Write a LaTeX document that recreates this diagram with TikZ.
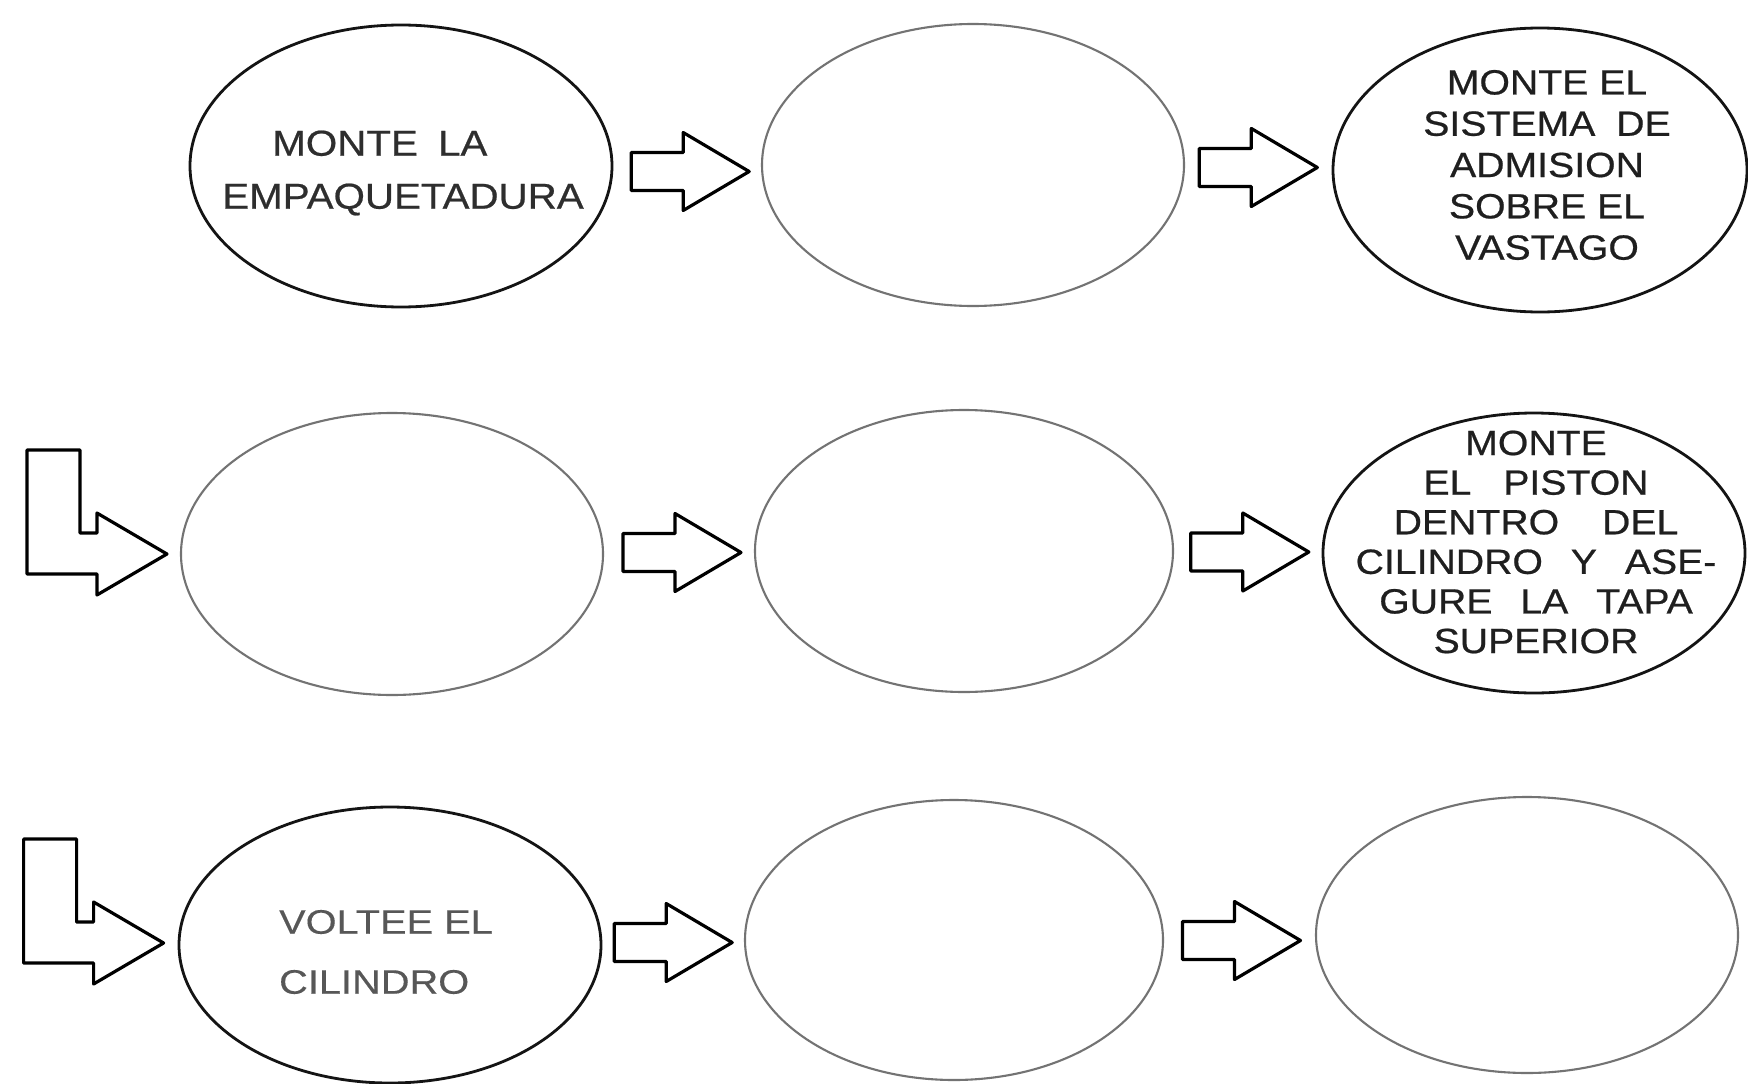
\documentclass[tikz,border=0pt]{standalone}
\usepackage{fontspec}
\setmainfont{Liberation Sans}
\newfontfamily\labfont{Liberation Sans}[FakeStretch=1.12,FakeBold=0.6]
\newfontfamily\labfontw{Liberation Sans}[FakeStretch=1.17,FakeBold=0.3]
\usetikzlibrary{shapes.geometric,calc}
\tikzset{
  stepell/.style={ellipse, inner sep=0pt, minimum width=422pt, minimum height=282pt},
  fullell/.style={stepell, draw=black!92, line width=2.8pt},
  emptyell/.style={stepell, draw=black!55, line width=2.1pt},
  steptext/.style={font=\labfont\fontsize{35}{41.3}\selectfont, text=black!88, align=center, inner sep=0pt},
  arrowline/.style={draw=black, line width=3.2pt, line join=round, fill=white},
  blockarrow/.pic={\path[arrowline] (-59,-19) -- (-7,-19) -- (-7,-39) -- (59,0) -- (-7,39) -- (-7,19) -- (-59,19) -- cycle;},
  larrow/.pic={\path[arrowline] (-140,-104) -- (-87,-104) -- (-87,-21) -- (-70,-21) -- (-70,-41) -- (0,0) -- (-70,41) -- (-70,20) -- (-140,20) -- cycle;},
}
\begin{document}
\begin{tikzpicture}[x=1pt,y=-1pt]
\fill[white] (0,0) rectangle (1748,1084);
\useasboundingbox (0,0) rectangle (1748,1084);

% row 1
\node[fullell] (e1) at (401,166) {};
\node[emptyell] (e2) at (973,165) {};
\node[fullell, minimum width=414pt, minimum height=284pt] (e3) at (1540,170) {};
% row 2
\node[emptyell] (e4) at (392,554) {};
\node[emptyell, minimum width=418pt] (e5) at (964,551) {};
\node[fullell, minimum height=280pt] (e6) at (1534,553) {};
% row 3
\node[fullell, minimum height=276pt] (e7) at (390,945) {};
\node[emptyell, minimum width=418pt, minimum height=280pt] (e8) at (954,940) {};
\node[emptyell, minimum height=276pt] (e9) at (1527,935) {};

% texts
\node[steptext, align=left, font=\labfont\fontsize{36}{53}\selectfont, text=black!82] (t1) at ($(e1.center)+(2,7)$)
  {\hspace*{50pt}MONTE\hspace{9pt} LA\\EMPAQUETADURA};
\node[steptext] (t3) at ($(e3.center)+(7,-5)$)
  {MONTE EL\\SISTEMA\hspace{10pt} DE\\ADMISION\\SOBRE EL\\VASTAGO};
\node[steptext, font=\labfont\fontsize{35}{39.6}\selectfont] (t6) at ($(e6.center)+(2,-11)$)
  {MONTE\\EL\hspace{21pt} PISTON\\DENTRO\hspace{32pt} DEL\\CILINDRO\hspace{17pt} Y\hspace{17pt} ASE-\\GURE\hspace{17pt} LA\hspace{17pt} TAPA\\SUPERIOR};
\node[steptext, align=left, font=\labfontw\fontsize{34}{60}\selectfont, text=black!66] (t7) at ($(e7.center)+(-4,7)$)
  {VOLTEE EL\\CILINDRO};

% block arrows
\pic at ($(e1.east)!0.5!(e2.west)+(3,6)$) {blockarrow};
\pic at ($(e2.east)!0.5!(e3.west)$) {blockarrow};
\pic at ($(e4.east)!0.5!(e5.west)+(3,0)$) {blockarrow};
\pic at ($(e5.east)!0.5!(e6.west)+(2,0)$) {blockarrow};
\pic at ($(e7.east)!0.5!(e8.west)$) {blockarrow};
\pic at ($(e8.east)!0.5!(e9.west)+(2,3)$) {blockarrow};

% L-shaped arrows entering rows 2 and 3
\pic at ($(e4.west)+(-13,0)$) {larrow};
\pic at ($(e7.west)+(-14,-2)$) {larrow};
\end{tikzpicture}
\end{document}
